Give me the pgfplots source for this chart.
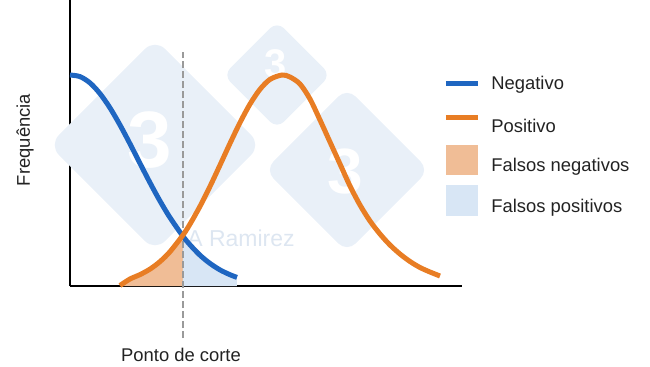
\documentclass[border=0pt]{standalone}
\usepackage{pgfplots}
\pgfplotsset{compat=1.18}
\usepackage{fontspec}
\setmainfont{Liberation Sans}
\definecolor{negblue}{HTML}{1F66C1}
\definecolor{posorange}{HTML}{E87D24}
\definecolor{fnfill}{HTML}{F0BD96}
\definecolor{fpfill}{HTML}{D8E6F5}
\definecolor{wm}{HTML}{E9F0F8}
\definecolor{wmtext}{HTML}{DDE6F1}
\definecolor{txt}{HTML}{222222}
\definecolor{cutgray}{HTML}{9A9A9A}
\begin{document}
\begin{tikzpicture}
\path[use as bounding box] (0,0) rectangle (325pt,183pt);
\begin{axis}[
  at={(35pt,40pt)}, anchor=south west,
  scale only axis, width=196pt, height=143pt,
  xmin=70, xmax=462, ymin=0, ymax=286,
  axis lines=left,
  axis line style={-, line width=1pt, black},
  xtick=\empty, ytick=\empty,
  clip=false,
  font=\fontsize{9.2}{11}\selectfont,
]
% watermark
\node[fill=wm, rounded corners=7pt, minimum size=75pt, rotate=45, inner sep=0pt] at (axis cs:155,141) {};
\node[fill=wm, rounded corners=5pt, minimum size=38pt, rotate=45, inner sep=0pt] at (axis cs:277,211) {};
\node[fill=wm, rounded corners=6pt, minimum size=58pt, rotate=45, inner sep=0pt] at (axis cs:347,116) {};
\node[white, font=\fontsize{40}{40}\selectfont\bfseries] at (axis cs:150,146) {3};
\node[white, font=\fontsize{20}{20}\selectfont\bfseries] at (axis cs:276,222) {3};
\node[white, font=\fontsize{32}{32}\selectfont\bfseries] at (axis cs:345,114) {3};
% fills
\addplot[draw=none, fill=fnfill] coordinates {
 (120,0) (120,2) (130,7.4) (140,11.4) (150,16.9) (160,24.4) (170,34.3) (183,51) (183,0)} -- cycle;
\addplot[draw=none, fill=fpfill] coordinates {
 (183,0) (183,49.7) (190,41.2) (200,30.8) (210,22.6) (220,16.1) (230,11.3) (237,8.6) (237,0)} -- cycle;
\node[wmtext, font=\fontsize{11.5}{13}\selectfont] at (axis cs:241,48) {A Ramirez};
% cut-off line
\addplot[cutgray, line width=1pt, dash pattern=on 3.5pt off 1.5pt] coordinates {(183,-52) (183,234)};
% curves
\addplot[negblue, line width=2.5pt, smooth] coordinates {
 (70,211) (80,209.4) (90,203.1) (100,192.4) (110,178.1) (120,161.0) (130,142.2)
 (140,122.6) (150,103.3) (160,85.0) (170,68.4) (183,49.7) (190,41.2) (200,30.8)
 (210,22.6) (220,16.1) (230,11.3) (237,8.6)};
\addplot[posorange, line width=2.5pt, smooth] coordinates {
 (120,0.5) (130,7) (140,11.4) (150,16.9) (160,24.4) (170,34.3) (183,51) (190,61.9)
 (200,79.7) (210,99.6) (220,120.9) (230,142.6) (240,163.4) (250,181.9) (260,196.7)
 (270,206.6) (282,211) (290,209) (300,202) (310,187) (320,166) (330,144) (340,122)
 (350,100) (360,81) (370,65) (380,52) (390,41) (400,32) (410,24.5) (420,18.5)
 (430,14) (440,10)};
% legend
\draw[negblue, line width=2.5pt] (axis cs:446,203) -- (axis cs:478,203);
\draw[posorange, line width=2.5pt] (axis cs:446,169) -- (axis cs:478,169);
\fill[fnfill] (axis cs:446,111) rectangle (axis cs:478,141);
\fill[fpfill] (axis cs:446,70) rectangle (axis cs:478,101);
\node[txt, anchor=west, inner sep=0pt] at (axis cs:491,201) {Negativo};
\node[txt, anchor=west, inner sep=0pt] at (axis cs:491,160) {Positivo};
\node[txt, anchor=west, inner sep=0pt] at (axis cs:491,119) {Falsos negativos};
\node[txt, anchor=west, inner sep=0pt] at (axis cs:491,78) {Falsos positivos};
\node[txt, inner sep=0pt] at (axis cs:181,-69) {Ponto de corte};
\node[txt, inner sep=0pt, rotate=90] at (axis cs:25,146) {Frequência};
\end{axis}
\end{tikzpicture}
\end{document}
